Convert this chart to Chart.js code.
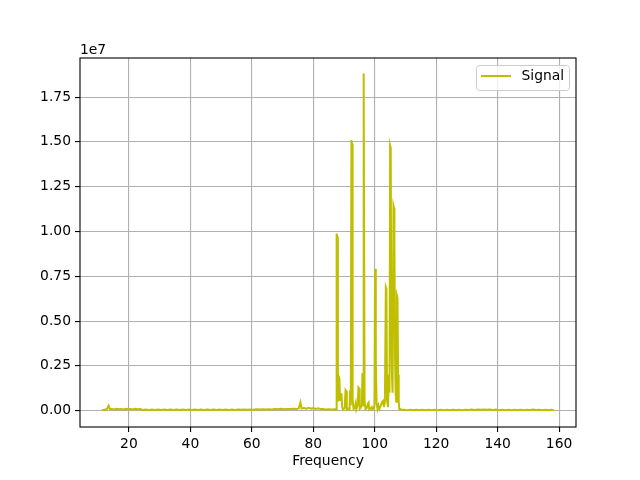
<!DOCTYPE html>
<html>
<head>
<meta charset="utf-8">
<script src="https://cdn.jsdelivr.net/npm/chart.js@4"></script>
<style>
  body { margin: 0; background: #fff; }
  canvas { display: block; }
</style>
</head>
<body>
<canvas id="myChart" width="640" height="480"></canvas>
<script>
// frequency (x) and signal (y, in units of 1e7)
const freq = [
    11.2, 12, 12.8, 13.4, 13.8, 14.5, 15.3, 16, 16.8, 17.5, 18.3, 19, 19.8, 20.5, 21.3, 22, 22.8, 23.6,
    24.5, 25.5, 26.5, 27.5, 28.5, 29.5, 30.5, 31.5, 32.5, 33.5, 34.5, 35.5, 36.5, 37.5, 38.5, 39.5,
    40.5, 41.5, 42.5, 43.5, 44.5, 45.5, 46.5, 47.5, 48.5, 49.5, 50.5, 51.5, 52.5, 53.5, 54.5, 55.5,
    56.5, 57.5, 58.5, 59.5, 60.5, 61.5, 62.5, 63.5, 64.5, 65.5, 66.5, 67.5, 68.5, 69.5, 70.5, 71.5,
    72.5, 73.5, 74.5, 75.3, 75.8, 76.2, 77, 77.8, 78.5, 79.3, 80, 80.8, 81.5, 82.3, 83, 84, 85, 86, 87,
    87.4, 87.6, 87.8, 88.0, 88.3, 88.5, 88.7, 89.0, 89.2, 89.4, 89.7, 90.2, 90.5, 90.7, 90.9, 91.3,
    91.8, 92.0, 92.2, 92.4, 92.6, 92.8, 93.1, 93.5, 93.8, 94.0, 94.4, 94.7, 94.9, 95.1, 95.4, 95.8,
    96.0, 96.2, 96.3, 96.5, 96.7, 97.0, 97.4, 97.8, 98.0, 98.2, 98.6, 99.0, 99.2, 99.6, 99.9, 100.1,
    100.3, 100.4, 100.6, 100.9, 101.2, 101.5, 102.0, 102.4, 102.7, 103.0, 103.3, 103.6, 103.8, 104.0,
    104.3, 104.6, 104.8, 105.0, 105.2, 105.4, 105.6, 105.8, 106.1, 106.3, 106.4, 106.6, 106.8, 107.0,
    107.2, 107.4, 107.6, 107.8, 108.0, 108.3, 108.6,
    109.5, 110.5, 111.5, 112.5, 113.5, 114.5, 115.5, 116.5, 117.5, 118.5, 119.5, 120.5, 121.5, 122.5,
    123.5, 124.5, 125.5, 126.5, 127.5, 128.5, 129.5, 130.5, 131.5, 132.5, 133.5, 134.5, 135.5, 136.5,
    137.5, 138.5, 139.5, 140.5, 141.5, 142.5, 143.5, 144.5, 145.5, 146.5, 147.5, 148.5, 149.5, 150.5,
    151.5, 152.5, 153.5, 154.5, 155.5, 156.5, 157.5, 158.3
];
const signal = [
    0.003, 0.006, 0.008, 0.028, 0.009, 0.010, 0.007, 0.011, 0.008, 0.010, 0.007, 0.011, 0.008, 0.010, 0.007, 0.011, 0.008, 0.009,
    0.004, 0.006, 0.004, 0.006, 0.004, 0.006, 0.004, 0.006, 0.004, 0.006, 0.004, 0.007, 0.004, 0.006, 0.004, 0.006,
    0.004, 0.006, 0.004, 0.007, 0.004, 0.006, 0.004, 0.006, 0.004, 0.006, 0.004, 0.006, 0.004, 0.006, 0.004, 0.006,
    0.005, 0.007, 0.005, 0.007, 0.005, 0.008, 0.006, 0.008, 0.006, 0.008, 0.007, 0.010, 0.008, 0.011, 0.008, 0.010,
    0.009, 0.011, 0.009, 0.013, 0.046, 0.012, 0.015, 0.011, 0.016, 0.011, 0.015, 0.010, 0.013, 0.009, 0.010, 0.007, 0.008, 0.006, 0.008,
    0.006, 0.988, 0.970, 0.050, 0.190, 0.180, 0.060, 0.093, 0.090, 0.020, 0.006, 0.015, 0.115, 0.110, 0.006, 0.012,
    0.006, 0.115, 0.030, 1.510, 1.490, 0.060, 0.010, 0.015, 0.040, 0.008, 0.030, 0.130, 0.125, 0.010, 0.015, 0.030,
    0.210, 0.030, 1.882, 1.860, 0.050, 0.008, 0.015, 0.040, 0.045, 0.006, 0.012, 0.020, 0.006, 0.012, 0.030, 0.792,
    0.780, 0.280, 0.040, 0.010, 0.030, 0.010, 0.030, 0.050, 0.055, 0.020, 0.050, 0.690, 0.680, 0.060,
    0.020, 0.200, 0.100, 1.476, 1.460, 0.400, 0.200, 0.100, 1.144, 1.130, 0.950, 0.300, 0.100, 0.050,
    0.643, 0.630, 0.200, 0.050, 0.010, 0.010, 0.005,
    0.005, 0.003, 0.005, 0.003, 0.005, 0.003, 0.005, 0.003, 0.005, 0.003, 0.005, 0.003, 0.005, 0.003,
    0.005, 0.003, 0.005, 0.003, 0.005, 0.003, 0.005, 0.004, 0.006, 0.004, 0.007, 0.005, 0.007, 0.005,
    0.007, 0.004, 0.006, 0.003, 0.005, 0.003, 0.005, 0.003, 0.005, 0.003, 0.005, 0.003, 0.005, 0.004,
    0.007, 0.004, 0.005, 0.003, 0.005, 0.003, 0.005, 0.003
];
const seriesLabel = 'Signal';
const xTitle = 'Frequency';
const yMultiplier = '1e7';

const lineColor = '#bfbf00';
const FONT = '"DejaVu Sans", sans-serif';
const FONT_SIZE = 13.89; // 10pt at 100 dpi

Chart.defaults.font.family = FONT;
Chart.defaults.font.size = FONT_SIZE;
Chart.defaults.color = '#000';

// axes frame, offset text and legend drawn matplotlib-style
const framePlugin = {
    id: 'frame',
    afterDraw(chart) {
        const { ctx, chartArea: a } = chart;
        ctx.save();
        ctx.strokeStyle = '#000';
        ctx.lineWidth = 1.1;
        ctx.strokeRect(a.left, a.top, a.right - a.left, a.bottom - a.top);

        ctx.font = FONT_SIZE + 'px ' + FONT;
        ctx.fillStyle = '#000';
        ctx.textAlign = 'left';
        ctx.textBaseline = 'alphabetic';
        ctx.fillText(yMultiplier, a.left, a.top - 4);

        // legend box
        const bx = a.right - 99.5, by = a.top + 7.5, bw = 93, bh = 25;
        ctx.beginPath();
        ctx.roundRect(bx, by, bw, bh, 3);
        ctx.fillStyle = 'rgba(255,255,255,0.8)';
        ctx.fill();
        ctx.strokeStyle = '#cccccc';
        ctx.lineWidth = 1;
        ctx.stroke();

        ctx.beginPath();
        ctx.moveTo(bx + 4.5, by + 10.5);
        ctx.lineTo(bx + 34.5, by + 10.5);
        ctx.strokeStyle = lineColor;
        ctx.lineWidth = 2;
        ctx.stroke();

        ctx.fillStyle = '#000';
        ctx.textBaseline = 'middle';
        ctx.fillText(seriesLabel, bx + 45, by + 11);
        ctx.restore();
    }
};

const ctx = document.getElementById('myChart').getContext('2d');
const myChart = new Chart(ctx, {
    type: 'line',
    data: {
        datasets: [{
            label: seriesLabel,
            data: freq.map((f, i) => ({ x: f, y: signal[i] })),
            borderColor: lineColor,
            borderWidth: 2,
            pointRadius: 0,
            tension: 0,
            fill: false
        }]
    },
    options: {
        responsive: false,
        animation: false,
        layout: { padding: { top: 58, right: 64, left: 0, bottom: 0 } },
        plugins: {
            legend: { display: false },
            tooltip: { enabled: false }
        },
        scales: {
            x: {
                type: 'linear',
                min: 4.07,
                max: 165.5,
                afterFit: scale => { scale.height = 53; },
                ticks: { stepSize: 20, includeBounds: false, padding: 4, maxRotation: 0 },
                grid: { color: '#b0b0b0', lineWidth: 1.1, tickLength: 5, tickColor: '#000', tickWidth: 1.1 },
                border: { display: false },
                title: { display: true, text: xTitle, padding: { top: 0, bottom: 10 } }
            },
            y: {
                min: -0.091,
                max: 1.968,
                afterFit: scale => { scale.width = 80; },
                ticks: {
                    stepSize: 0.25,
                    includeBounds: false,
                    padding: 4,
                    callback: v => v.toFixed(2)
                },
                grid: { color: '#b0b0b0', lineWidth: 1.1, tickLength: 5, tickColor: '#000', tickWidth: 1.1 },
                border: { display: false }
            }
        }
    },
    plugins: [framePlugin]
});
</script>
</body>
</html>
